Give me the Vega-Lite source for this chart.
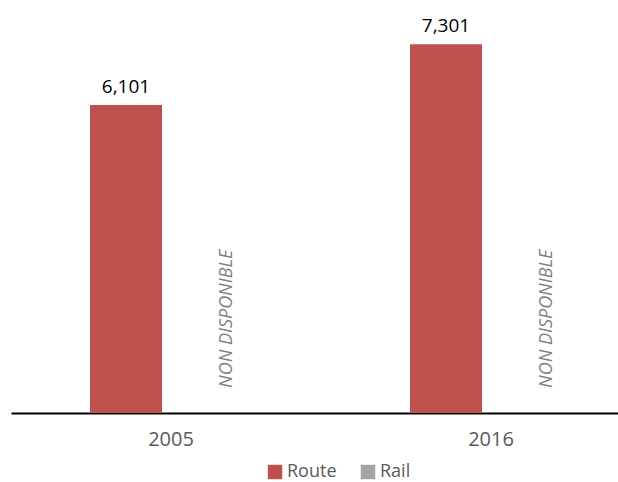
{
  "$schema": "https://vega.github.io/schema/vega-lite/v6.json",
  "width": 607,
  "height": 404,
  "autosize": "none",
  "padding": {"left": 11, "top": 9, "right": 0, "bottom": 69},
  "background": "white",
  "config": {"view": {"stroke": null}, "font": "Open Sans"},
  "data": {"values": [
    {"year": "2005", "series": "Route", "value": 6101, "label": "6,101"},
    {"year": "2005", "series": "Rail", "value": null, "label": "NON DISPONIBLE"},
    {"year": "2016", "series": "Route", "value": 7301, "label": "7,301"},
    {"year": "2016", "series": "Rail", "value": null, "label": "NON DISPONIBLE"}
  ]},
  "encoding": {
    "x": {"field": "year", "type": "nominal",
      "scale": {"range": [0, 640], "paddingInner": 0.49375, "paddingOuter": 0.246875},
      "axis": {"title": null, "labelAngle": 0, "ticks": false, "labelPadding": 16, "labelFontSize": 20, "labelColor": "#595959", "domainColor": "#000000", "domainWidth": 2, "labelFont": "Open Sans"}},
    "xOffset": {"field": "series", "type": "nominal", "sort": ["Route", "Rail"], "scale": {"domain": ["Route", "Rail"], "paddingInner": 0.2, "paddingOuter": 0}}
  },
  "layer": [
    {
      "mark": {"type": "bar"},
      "encoding": {
        "y": {"field": "value", "type": "quantitative", "scale": {"domain": [0, 8000], "nice": false}, "axis": null},
        "color": {"field": "series", "type": "nominal", "scale": {"domain": ["Route", "Rail"], "range": ["#C0504D", "#A5A5A5"]},
          "legend": {"title": null, "orient": "none", "direction": "horizontal", "legendX": 255, "legendY": 454, "symbolType": "square", "symbolSize": 210, "symbolStrokeWidth": 0, "labelFontSize": 18, "labelColor": "#595959", "columnPadding": 22, "labelOffset": 3, "labelFont": "Open Sans"}}
      }
    },
    {
      "transform": [{"filter": "datum.series === 'Route'"}],
      "mark": {"type": "text", "baseline": "alphabetic", "dy": -12, "fontSize": 19, "color": "#000000"},
      "encoding": {
        "y": {"field": "value", "type": "quantitative"},
        "text": {"field": "label"}
      }
    },
    {
      "transform": [{"filter": "datum.series === 'Rail'"}],
      "mark": {"type": "text", "angle": 270, "align": "left", "baseline": "middle", "dx": 25, "dy": 11, "fontSize": 18, "fontStyle": "italic", "color": "#7F7F7F"},
      "encoding": {
        "y": {"datum": 0, "type": "quantitative"},
        "text": {"field": "label"}
      }
    }
  ]
}
